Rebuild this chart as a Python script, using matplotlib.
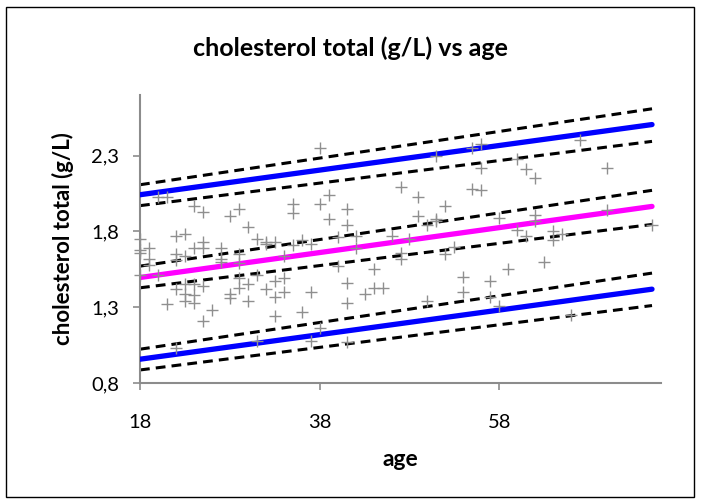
import matplotlib
matplotlib.use("Agg")
import matplotlib.pyplot as plt
from matplotlib.ticker import FuncFormatter, FixedLocator
from matplotlib.patches import Rectangle

plt.rcParams['font.family'] = ['Lato', 'DejaVu Sans']

# Observations: age (years) and total cholesterol (g/L)
age = [20, 21, 24, 25, 28, 29, 30, 31, 32, 22, 23, 25, 24, 25, 27, 19, 18, 22, 23, 19,
       29, 27, 18, 38, 39, 38, 35, 35, 41, 39, 41, 47, 33, 36, 35, 37, 40, 42, 42, 46,
       34, 47, 47, 19, 22, 27, 29, 20, 18, 23, 24, 25, 22, 23, 24, 23, 24, 21, 26, 25,
       28, 28, 29, 30, 30, 29, 31, 32, 22, 31, 40, 44, 33, 34, 34, 33, 37, 41, 43, 44,
       45, 41, 33, 36, 38, 37, 41, 50, 51, 48, 52, 53, 50, 54, 54, 57, 57, 59, 58, 60,
       51, 55, 56, 56, 60, 49, 52, 55, 56, 49, 51, 58, 67, 61, 62, 70, 62, 70, 62, 64,
       65, 75, 61, 64, 63, 66, 18, 32]
chol = [2.03, 2.03, 1.97, 1.93, 1.90, 1.95, 1.83, 1.75, 1.73, 1.77, 1.78, 1.73, 1.69, 1.69, 1.69, 1.69, 1.75, 1.65, 1.64, 1.62,
        1.65, 1.62, 1.68, 2.35, 2.04, 1.98, 1.98, 1.92, 1.95, 1.88, 1.84, 2.09, 1.73, 1.745, 1.71, 1.72, 1.76, 1.77, 1.69, 1.77,
        1.64, 1.66, 1.62, 1.58, 1.61, 1.60, 1.59, 1.51, 1.51, 1.45, 1.45, 1.44, 1.42, 1.39, 1.38, 1.34, 1.33, 1.32, 1.28, 1.21,
        1.39, 1.36, 1.43, 1.45, 1.34, 1.49, 1.51, 1.42, 1.03, 1.08, 1.57, 1.55, 1.47, 1.49, 1.40, 1.37, 1.40, 1.46, 1.39, 1.43,
        1.43, 1.33, 1.24, 1.27, 1.16, 1.08, 1.07, 1.84, 1.87, 1.75, 1.65, 1.70, 1.34, 1.50, 1.40, 1.47, 1.37, 1.55, 1.31, 1.81,
        2.30, 2.35, 2.38, 2.22, 2.28, 2.03, 1.97, 2.08, 2.07, 1.90, 1.88, 1.89, 2.40, 2.21, 2.15, 2.22, 1.91, 1.94, 1.87, 1.80,
        1.785, 1.84, 1.77, 1.745, 1.595, 1.25, 1.66, 1.72]

# Fitted lines evaluated at the ends of the age range
fit_age = [18, 75]
center = [1.496, 1.965]
center_lo = [1.428, 1.846]
center_hi = [1.571, 2.071]
upper = [2.042, 2.505]
upper_lo = [1.970, 2.394]
upper_hi = [2.108, 2.609]
lower = [0.957, 1.419]
lower_lo = [0.886, 1.311]
lower_hi = [1.023, 1.525]

x_ticks = [18, 38, 58]
y_ticks = [0.8, 1.3, 1.8, 2.3]

fig = plt.figure(figsize=(7.01, 5.01), dpi=100)
fig.patches.append(Rectangle((6 / 701, 4 / 501), 688 / 701, 490 / 501,
                             transform=fig.transFigure, fill=False,
                             edgecolor='black', linewidth=1.0))

ax = fig.add_axes([140 / 701, 1 - 383 / 501, 521 / 701, 288 / 501])

dash = (0, (3.2, 2.0))
for ys in (upper_hi, upper_lo, center_hi, center_lo, lower_hi, lower_lo):
    ax.plot(fit_age, ys, color='black', linewidth=2.2, linestyle=dash,
            dash_capstyle='butt', zorder=2)
ax.plot(fit_age, upper, color='#0000FF', linewidth=3.8, solid_capstyle='round', zorder=3)
ax.plot(fit_age, lower, color='#0000FF', linewidth=3.8, solid_capstyle='round', zorder=3)
ax.plot(fit_age, center, color='#FF00FF', linewidth=3.8, solid_capstyle='round', zorder=3)

ax.scatter(age, chol, marker='+', s=85, color='#8f8f8f', linewidths=1.0, zorder=4,
           clip_on=False)

ax.set_xlim(18, 76)
ax.set_ylim(0.8, 2.7)
ax.xaxis.set_major_locator(FixedLocator(x_ticks))
ax.yaxis.set_major_locator(FixedLocator(y_ticks))
ax.yaxis.set_major_formatter(FuncFormatter(lambda v, p: f"{v:.1f}".replace('.', ',')))

for side in ('top', 'right'):
    ax.spines[side].set_visible(False)
for side in ('left', 'bottom'):
    ax.spines[side].set_color('#8c8c8c')
    ax.spines[side].set_linewidth(1.5)
ax.tick_params(axis='both', which='major', direction='out', length=5, width=1.2,
               color='#8c8c8c', labelsize=14.5, labelcolor='black')
ax.tick_params(axis='x', pad=17)
ax.tick_params(axis='y', pad=10)

ax.set_xlabel('age', fontsize=16.5, fontweight='bold', labelpad=13)
ax.set_ylabel('cholesterol total (g/L)', fontsize=16, fontweight='bold', labelpad=12)
fig.text(0.5, 1 - 48 / 501, 'cholesterol total (g/L) vs age', ha='center', va='center',
         fontsize=18, fontweight='bold')

fig.savefig('out.png', dpi=100)
